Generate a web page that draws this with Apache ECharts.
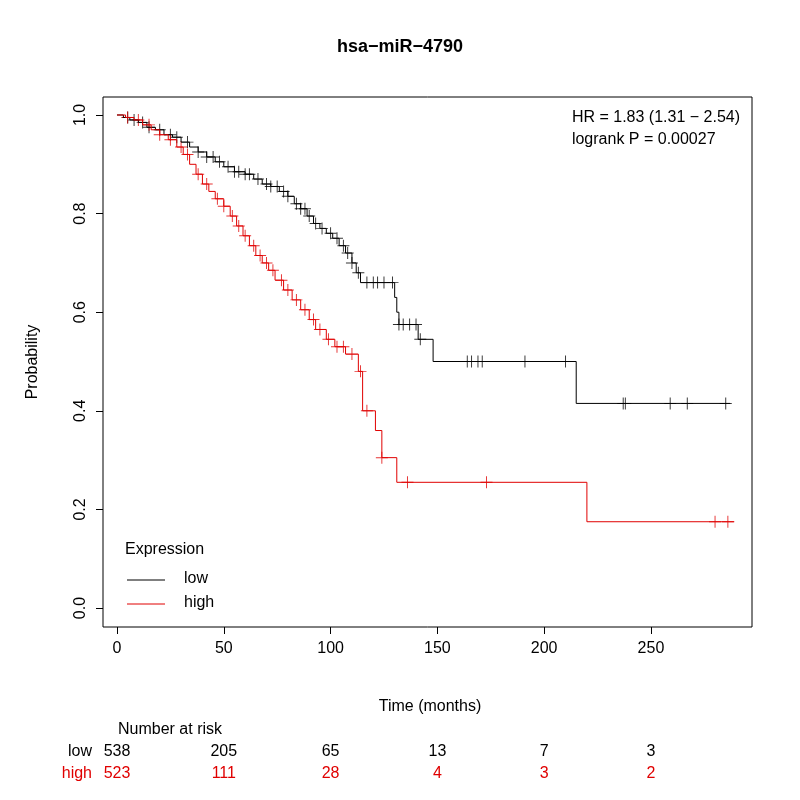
<!DOCTYPE html>
<html><head><meta charset="utf-8">
<script src="https://cdn.jsdelivr.net/npm/echarts@6/dist/echarts.min.js"></script>
<style>body{margin:0}#c{width:800px;height:800px}</style></head>
<body><div id="c"></div>
<script>
// Kaplan-Meier steps
var lowSteps = [[0,1.0],[3,0.995],[6,0.99],[10,0.985],[14,0.975],[18,0.97],[22,0.96],[26,0.955],[30,0.945],[34,0.935],[38,0.925],[42,0.915],[46,0.905],[50,0.895],[55,0.885],[60,0.88],[64,0.87],[68,0.86],[72,0.855],[76,0.845],[80,0.835],[83,0.82],[86,0.81],[89,0.795],[92,0.78],[95,0.77],[98,0.76],[101,0.75],[104,0.735],[107,0.72],[110,0.70],[112,0.68],[114,0.66],[130,0.63],[131,0.60],[132,0.575],[141,0.545],[148,0.50],[215,0.415],[287,0.415]];
var highSteps = [[0,1],[4,0.995],[8,0.99],[12,0.98],[16,0.97],[20,0.96],[24,0.95],[28,0.935],[31,0.92],[34,0.90],[37,0.88],[40,0.86],[43,0.845],[46,0.83],[50,0.815],[53,0.795],[56,0.775],[59,0.755],[62,0.735],[65,0.715],[68,0.70],[71,0.685],[74,0.665],[78,0.645],[82,0.625],[86,0.605],[90,0.585],[93,0.565],[98,0.545],[102,0.53],[107,0.515],[113,0.48],[115,0.40],[121,0.36],[124,0.305],[131,0.255],[220,0.175],[289,0.175]];
var lowCensor = [5,8,12,15,20,25,28,33,38,42,45,48,52,55,57,60,62,66,70,72,75,78,80,84,86,88,90,93,96,100,103,106,108,110,113,117,120,122,125,129,132,134,137,140,142,164,166,169,171,191,210,237,238,259,267,285];
var highCensor = [5,10,15,20,25,30,33,38,42,47,50,54,57,60,64,67,70,73,77,80,84,88,92,95,99,103,106,110,114,117,124,136,173,280,286];
var xTicks = [0,50,100,150,200,250];
var yTicks = [0,0.2,0.4,0.6,0.8,1.0];
var riskLow = [538,205,65,13,7,3];
var riskHigh = [523,111,28,4,3,2];

function at(steps,t){var v=steps[0][1];for(var i=0;i<steps.length;i++){if(steps[i][0]<=t)v=steps[i][1];}return v;}
function marks(steps,times){return times.map(function(t){return [t,at(steps,t)];});}
var plus='path://M-0.08,-1h0.16v2h-0.16zM-1,-0.08h2v0.16h-2z';
var F='Liberation Sans, Arial, sans-serif';

var chart=echarts.init(document.getElementById('c'));
var g=[];
g.push({type:'text',left:'center',top:38,style:{text:'hsa\u2212miR\u22124790',font:'bold 18px '+F,fill:'#000'}});
g.push({type:'text',right:60,top:107,style:{text:'HR = 1.83 (1.31 \u2212 2.54)\nlogrank P = 0.00027',font:'16px '+F,fill:'#000',align:'right',lineHeight:22}});
g.push({type:'text',x:125,y:542,style:{text:'Expression',font:'16px '+F,fill:'#000'}});
g.push({type:'line',shape:{x1:127,y1:580,x2:165,y2:580},style:{stroke:'#000',lineWidth:1}});
g.push({type:'line',shape:{x1:127,y1:604,x2:165,y2:604},style:{stroke:'#e00000',lineWidth:1}});
g.push({type:'text',x:184,y:571,style:{text:'low',font:'16px '+F,fill:'#000'}});
g.push({type:'text',x:184,y:595,style:{text:'high',font:'16px '+F,fill:'#000'}});
g.push({type:'text',x:430,y:699,style:{text:'Time (months)',font:'16px '+F,fill:'#000',align:'center'}});
g.push({type:'text',x:118,y:722,style:{text:'Number at risk',font:'16px '+F,fill:'#000'}});
g.push({type:'text',x:92,y:744,style:{text:'low',font:'16px '+F,fill:'#000',align:'right'}});
g.push({type:'text',x:92,y:766,style:{text:'high',font:'16px '+F,fill:'#e00000',align:'right'}});
for(var i=0;i<xTicks.length;i++){
  var px=117+xTicks[i]*2.136;
  g.push({type:'text',x:px,y:744,style:{text:String(riskLow[i]),font:'16px '+F,fill:'#000',align:'center'}});
  g.push({type:'text',x:px,y:766,style:{text:String(riskHigh[i]),font:'16px '+F,fill:'#e00000',align:'center'}});
}

chart.setOption({
  animation:false,
  backgroundColor:'#fff',
  graphic:g,
  grid:{left:103,right:48,top:97,bottom:173,show:true,borderColor:'#000',borderWidth:1,backgroundColor:'transparent'},
  xAxis:{type:'value',min:-6.55,max:297.3,splitLine:{show:false},axisLine:{show:false,onZero:false},
    axisTick:{show:true,length:7,lineStyle:{color:'#000'},customValues:xTicks},
    axisLabel:{customValues:xTicks,color:'#000',fontSize:16,fontFamily:F,margin:14}},
  yAxis:{type:'value',min:-0.0385,max:1.0365,splitLine:{show:false},axisLine:{show:false,onZero:false},
    name:'Probability',nameLocation:'middle',nameGap:62,nameTextStyle:{color:'#000',fontSize:16,fontFamily:F},
    axisTick:{show:true,length:7,lineStyle:{color:'#000'},customValues:yTicks},
    axisLabel:{customValues:yTicks,rotate:90,color:'#000',fontSize:16,fontFamily:F,margin:14,formatter:function(v){return v.toFixed(1);}}},
  series:[
    {type:'line',step:'end',data:lowSteps,showSymbol:false,lineStyle:{color:'#000',width:1}},
    {type:'line',step:'end',data:highSteps,showSymbol:false,lineStyle:{color:'#e00000',width:1}},
    {type:'scatter',data:marks(lowSteps,lowCensor),symbol:plus,symbolSize:12,itemStyle:{color:'#000'}},
    {type:'scatter',data:marks(highSteps,highCensor),symbol:plus,symbolSize:12,itemStyle:{color:'#e00000'}}
  ]
});
</script></body></html>
